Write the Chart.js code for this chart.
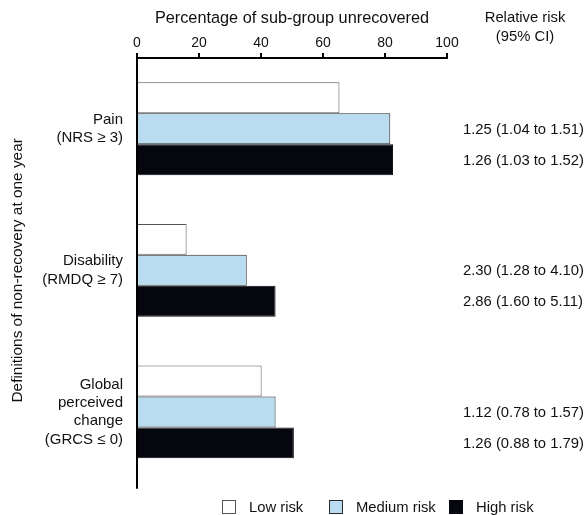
<!DOCTYPE html>
<html>
<head>
<meta charset="utf-8">
<script src="https://cdn.jsdelivr.net/npm/chart.js@4.4.0/dist/chart.umd.min.js"></script>
<style>
  body { margin: 0; background: #fff; }
  #wrap { width: 585px; height: 515px; position: relative; }
</style>
</head>
<body>
<div id="wrap"><canvas id="riskChart"></canvas></div>
<script>
// chart data
const categories = [
    ['Pain', '(NRS \u2265 3)'],
    ['Disability', '(RMDQ \u2265 7)'],
    ['Global', 'perceived', 'change', '(GRCS \u2264 0)']
];
const lowRisk = [65.3, 16.0, 40.2];
const mediumRisk = [81.7, 35.4, 44.7];
const highRisk = [82.6, 44.7, 50.6];
const rrMedium = ['1.25 (1.04 to 1.51)', '2.30 (1.28 to 4.10)', '1.12 (0.78 to 1.57)'];
const rrHigh = ['1.26 (1.03 to 1.52)', '2.86 (1.60 to 5.11)', '1.26 (0.88 to 1.79)'];
const xTicks = [0, 20, 40, 60, 80, 100];
const seriesNames = ['Low risk', 'Medium risk', 'High risk'];

const FONT = "'Liberation Sans', Arial, Helvetica, sans-serif";
const TEXT = '#111';

// extra drawing: axis line, relative risk column, legend
const extras = {
    id: 'extras',
    afterDraw(chart) {
        const ctx = chart.ctx;
        const area = chart.chartArea;
        ctx.save();

        // left axis line runs a bit past the last bar group
        ctx.strokeStyle = '#000';
        ctx.lineWidth = 2;
        ctx.beginPath();
        ctx.moveTo(area.left, area.top - 1);
        ctx.lineTo(area.left, area.bottom + 6);
        ctx.stroke();

        ctx.fillStyle = TEXT;
        ctx.font = '14.8px ' + FONT;
        ctx.textBaseline = 'middle';

        // header of the relative risk column
        ctx.textAlign = 'center';
        ctx.fillText('Relative risk', 525, 18);
        ctx.fillText('(95% CI)', 525, 37);

        // relative risk next to medium / high bars
        ctx.textAlign = 'left';
        const medMeta = chart.getDatasetMeta(1);
        const highMeta = chart.getDatasetMeta(2);
        rrMedium.forEach((txt, i) => ctx.fillText(txt, 463, medMeta.data[i].y + 1));
        rrHigh.forEach((txt, i) => ctx.fillText(txt, 463, highMeta.data[i].y + 1));

        // legend
        const boxX = [222, 329, 449];
        chart.data.datasets.forEach((ds, i) => {
            ctx.fillStyle = ds.backgroundColor;
            ctx.fillRect(boxX[i], 500, 14, 14);
            ctx.strokeStyle = ds.borderColor;
            ctx.lineWidth = 1;
            ctx.strokeRect(boxX[i] + 0.5, 500.5, 13, 13);
            ctx.fillStyle = TEXT;
            ctx.fillText(ds.label, boxX[i] + 27, 508);
        });
        ctx.restore();
    }
};

const ctx = document.getElementById('riskChart').getContext('2d');
const riskChart = new Chart(ctx, {
    type: 'bar',
    data: {
        labels: categories,
        datasets: [{
            label: seriesNames[0],
            data: lowRisk,
            backgroundColor: '#ffffff',
            borderColor: '#555555',
            borderWidth: 1
        }, {
            label: seriesNames[1],
            data: mediumRisk,
            backgroundColor: '#b9dcf1',
            borderColor: '#2a2a2a',
            borderWidth: 1
        }, {
            label: seriesNames[2],
            data: highRisk,
            backgroundColor: '#06060f',
            borderColor: '#06060f',
            borderWidth: 1
        }]
    },
    options: {
        indexAxis: 'y',
        responsive: true,
        maintainAspectRatio: false,
        animation: false,
        layout: {
            padding: { left: 0, right: 138, top: 0, bottom: 27 }
        },
        datasets: {
            bar: {
                barPercentage: 1,
                categoryPercentage: 0.656
            }
        },
        plugins: {
            legend: { display: false },
            tooltip: { enabled: false }
        },
        scales: {
            x: {
                position: 'top',
                min: 0,
                max: 100,
                afterBuildTicks: scale => {
                    scale.ticks = xTicks.map(v => ({ value: v }));
                },
                afterFit: scale => { scale.height = 58; },
                grid: {
                    drawOnChartArea: false,
                    drawTicks: true,
                    tickLength: 5,
                    color: '#000',
                    lineWidth: 2
                },
                border: { display: true, color: '#000', width: 2 },
                ticks: {
                    color: TEXT,
                    padding: 1,
                    maxRotation: 0,
                    font: { family: FONT, size: 14 }
                },
                title: {
                    display: true,
                    text: 'Percentage of sub-group unrecovered',
                    color: TEXT,
                    padding: { top: 9, bottom: 0 },
                    font: { family: FONT, size: 16.3 }
                }
            },
            y: {
                afterFit: scale => { scale.width = 137; },
                grid: { display: false, drawTicks: false },
                border: { display: false },
                ticks: {
                    color: TEXT,
                    padding: 14,
                    font: { family: FONT, size: 15, lineHeight: 1.22 }
                },
                title: {
                    display: true,
                    text: 'Definitions of non-recovery at one year',
                    color: TEXT,
                    padding: { top: 9, bottom: 0 },
                    font: { family: FONT, size: 15.4 }
                }
            }
        }
    },
    plugins: [extras]
});
</script>
</body>
</html>
